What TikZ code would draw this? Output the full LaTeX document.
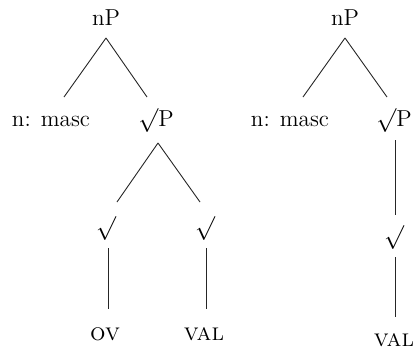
\documentclass[tikz,border=0pt]{standalone}
\usepackage{graphicx}
\usetikzlibrary{calc}
\newcommand{\dbl}[1]{\scalebox{2}{#1}}
\begin{document}
\begin{tikzpicture}[x=1bp,y=-1bp,
  lab/.style={inner sep=0pt, anchor=base, font=\fontsize{11.6}{14}\selectfont},
  sc/.style={inner sep=0pt, anchor=base, font=\fontsize{12.2}{14}\selectfont},
  rt/.style={inner sep=0pt, anchor=center, font=\fontsize{12}{14}\selectfont},
  edge/.style={line width=0.9bp, black!85}]
\useasboundingbox (0,0) rectangle (413,351);
% left tree
\node[lab] (nP1) at (106,25) {\dbl{nP}};
\node[lab] (nm1) at (51,126) {\dbl{n: masc}};
\node[lab] (rP1) at (156,126) {\dbl{$\surd$P}};
\node[rt] (r1) at (106,228) {\dbl{$\surd$}};
\node[rt] (r2) at (205,228) {\dbl{$\surd$}};
\node[sc] (ov) at (105,340) {\dbl{\textsc{ov}}};
\node[sc] (val1) at (204,340) {\dbl{\textsc{val}}};
\draw[edge] ($(nP1.base)+(0,13)$) -- ($(nm1.base)+(13,-29)$);
\draw[edge] ($(nP1.base)+(0,13)$) -- ($(rP1.base)+(-9,-29)$);
\draw[edge] ($(rP1.base)+(2,17)$) -- ($(r1.center)+(11,-26)$);
\draw[edge] ($(rP1.base)+(2,17)$) -- ($(r2.center)+(-5,-26)$);
\draw[edge] ($(r1.center)+(2,20)$) -- ($(ov.base)+(3,-31)$);
\draw[edge] ($(r2.center)+(1,20)$) -- ($(val1.base)+(2,-31)$);
% right tree
\node[lab] (nP2) at (345,25) {\dbl{nP}};
\node[lab] (nm2) at (290,126) {\dbl{n: masc}};
\node[lab] (rP2) at (394,126) {\dbl{$\surd$P}};
\node[rt] (r3) at (394,237) {\dbl{$\surd$}};
\node[sc] (val2) at (394,346) {\dbl{\textsc{val}}};
\draw[edge] ($(nP2.base)+(0,13)$) -- ($(nm2.base)+(13,-29)$);
\draw[edge] ($(nP2.base)+(0,13)$) -- ($(rP2.base)+(-7,-29)$);
\draw[edge] ($(rP2.base)+(1,14)$) -- ($(r3.center)+(1,-22)$);
\draw[edge] ($(r3.center)+(1,20)$) -- ($(val2.base)+(1,-29)$);
\end{tikzpicture}
\end{document}
